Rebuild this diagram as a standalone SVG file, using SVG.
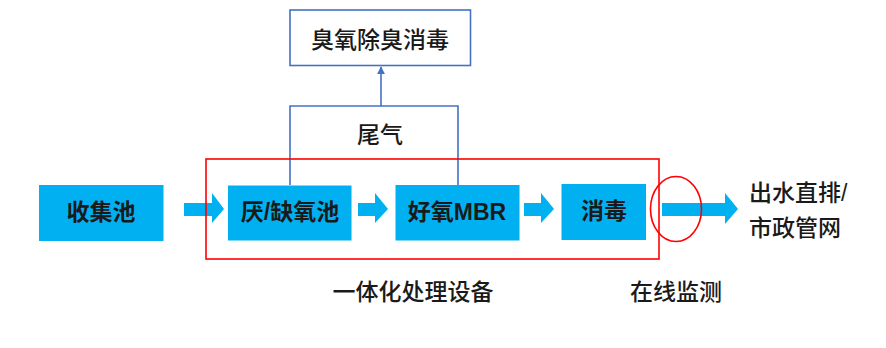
<svg xmlns="http://www.w3.org/2000/svg" width="886" height="348" viewBox="0 0 886 348">
<style>
.box{fill:#00B0F0}
.flow{fill:#00B0F0}
.ln{fill:none;stroke:#4472C4;stroke-width:1.6}
.t{font-family:"Liberation Sans","Noto Sans CJK SC",sans-serif;font-size:23px;font-weight:500;fill:#1a1a1a;text-anchor:middle;dominant-baseline:central}
.b{font-weight:bold}
</style>
<defs>
<marker id="ah" viewBox="0 0 10 10" refX="9" refY="5" markerWidth="5" markerHeight="5" orient="auto">
<path d="M0,0 L10,5 L0,10 z" fill="#4472C4"/>
</marker>
</defs>
<rect width="886" height="348" fill="#fff"/>
<g id="connectors">
<path class="ln" d="M290,185 V106 H458 V185"/>
<line class="ln" x1="381" y1="106" x2="381" y2="67" marker-end="url(#ah)"/>
<path class="flow" d="M184,203 H212 V193 L224,209 L212,223 V216 H184 z"/>
<path class="flow" d="M358,203 H375 V193 L388,209 L375,223 V216 H358 z"/>
<path class="flow" d="M524,203 H541 V193 L554,209 L541,223 V216 H524 z"/>
<path class="flow" d="M662,203 H725 V193 L738,209 L725,224 V216 H662 z"/>
</g>
<g id="ozone">
<rect x="290" y="10" width="180.5" height="55.5" fill="#fff" stroke="#4472C4" stroke-width="1.6"/>
<text class="t" x="380" y="40">臭氧除臭消毒</text>
</g>
<g id="tailgas"><text class="t" x="380" y="135">尾气</text></g>
<g id="collect">
<rect class="box" x="39" y="185" width="124.5" height="56"/>
<text class="t b" x="101" y="212">收集池</text>
</g>
<g id="anoxic">
<rect class="box" x="228" y="185.5" width="123.5" height="55"/>
<text class="t b" x="290" y="212">厌/缺氧池</text>
</g>
<g id="mbr">
<rect class="box" x="395.5" y="185" width="124" height="55.5"/>
<text class="t b" x="457" y="212">好氧MBR</text>
</g>
<g id="disinfect">
<rect class="box" x="561.5" y="184" width="84.5" height="56"/>
<text class="t b" x="604" y="211">消毒</text>
</g>
<g id="integrated">
<rect x="206" y="159" width="453" height="100" fill="none" stroke="#FF0000" stroke-width="1.6"/>
<text class="t" x="413" y="292">一体化处理设备</text>
</g>
<g id="monitor">
<ellipse cx="676" cy="209" rx="25.5" ry="32.5" fill="none" stroke="#FF0000" stroke-width="1.6"/>
<text class="t" x="676" y="292">在线监测</text>
</g>
<g id="outlet">
<text class="t" x="749" y="193" style="text-anchor:start">出水直排/</text>
<text class="t" x="749" y="228" style="text-anchor:start">市政管网</text>
</g>
</svg>
